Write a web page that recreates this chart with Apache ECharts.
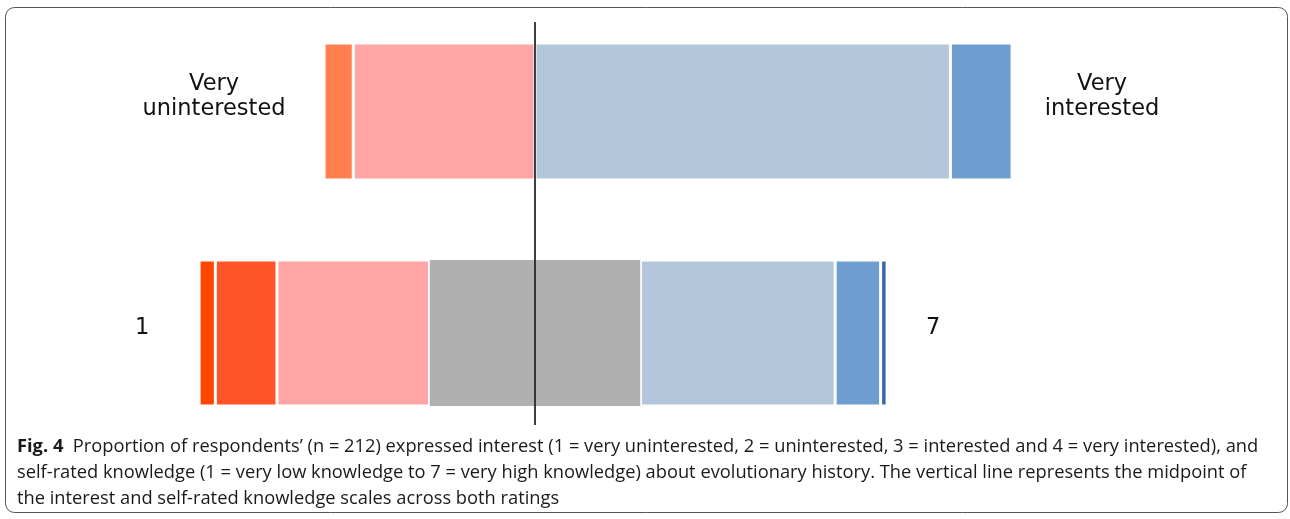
<!DOCTYPE html>
<html>
<head>
<meta charset="utf-8">
<script src="https://cdn.jsdelivr.net/npm/echarts@6/dist/echarts.min.js"></script>
<style>html,body{margin:0;padding:0;background:#fff}#c{width:1290px;height:519px}</style>
</head>
<body>
<div id="c"></div>
<script>
// ---- data (respondent counts, n = 212) ----
const interestCats = ['Very uninterested', 'Uninterested', 'Interested', 'Very interested'];
const interestCounts = [9, 56, 128, 19];
const interestColors = ['#FF7F50', '#FFA5A5', '#B4C6DC', '#6E9ECF'];

const knowledgeCats = ['1', '2', '3', '4', '5', '6', '7'];
const knowledgeCounts = [5, 19, 47, 65, 60, 14, 2];
const knowledgeColors = ['#FF4500', '#FF5427', '#FFA5A5', '#B0B0B0', '#B4C6DC', '#6E9ECF', '#3A68A8'];

const interestEndLabels = ['Very\nuninterested', 'Very\ninterested'];
const knowledgeEndLabels = ['1', '7'];
const midpoint = 0;

const captionLines = [
  '{b|Fig. 4}  Proportion of respondents\u2019 (n = 212) expressed interest (1 = very uninterested, 2 = uninterested, 3 = interested and 4 = very interested), and',
  'self-rated knowledge (1 = very low knowledge to 7 = very high knowledge) about evolutionary history. The vertical line represents the midpoint of',
  'the interest and self-rated knowledge scales across both ratings'
];

// ---- layout ----
const X_MIN = -160, X_MAX = 220;
const GL = 15.75, GR = 41.05;
const labelFont = { fontFamily: 'DejaVu Sans', fontSize: 22.5, color: '#111', lineHeight: 25 };

function endLabel(text, side, distance, dy) {
  return Object.assign({
    show: true,
    position: side,
    distance: distance,
    align: 'center',
    verticalAlign: 'middle',
    offset: [0, dy],
    formatter: () => text
  }, labelFont);
}

const series = [];

// Interest row (grid 0): the two negative categories stack left of the midpoint
const nI = interestCounts.length;
const halfI = nI / 2;
const interestOrder = [];
for (let i = halfI - 1; i >= 0; i--) interestOrder.push({ idx: i, sign: -1 });
for (let i = halfI; i < nI; i++) interestOrder.push({ idx: i, sign: 1 });
interestOrder.forEach(o => {
  const s = {
    name: interestCats[o.idx],
    type: 'bar', stack: 'interest', xAxisIndex: 0, yAxisIndex: 0,
    barWidth: '100%',
    itemStyle: { color: interestColors[o.idx], borderColor: '#fff', borderWidth: 1.5 },
    data: [o.sign * interestCounts[o.idx]]
  };
  if (o.idx === 0) s.label = endLabel(interestEndLabels[0], 'left', 110, -15);
  if (o.idx === nI - 1) s.label = endLabel(interestEndLabels[1], 'right', 90, -15);
  series.push(s);
});

// Knowledge row (grid 1): the neutral middle category is split across the midpoint
const nK = knowledgeCounts.length;
const mid = (nK - 1) / 2;
const knowledgeOrder = [{ idx: mid, sign: -1, half: true }];
for (let i = mid - 1; i >= 0; i--) knowledgeOrder.push({ idx: i, sign: -1 });
knowledgeOrder.push({ idx: mid, sign: 1, half: true });
for (let i = mid + 1; i < nK; i++) knowledgeOrder.push({ idx: i, sign: 1 });
knowledgeOrder.forEach(o => {
  const v = o.half ? knowledgeCounts[o.idx] / 2 : knowledgeCounts[o.idx];
  const s = {
    name: knowledgeCats[o.idx],
    type: 'bar', stack: 'knowledge', xAxisIndex: 1, yAxisIndex: 1,
    barWidth: '100%',
    itemStyle: { color: knowledgeColors[o.idx], borderColor: o.half ? knowledgeColors[o.idx] : '#fff', borderWidth: o.half ? 0 : 1.5 },
    data: [o.sign * v]
  };
  if (o.idx === 0) s.label = endLabel(knowledgeEndLabels[0], 'left', 57, -5);
  if (o.idx === nK - 1) s.label = endLabel(knowledgeEndLabels[1], 'right', 46, -5);
  series.push(s);
});

// Midpoint line (grid 2 spans both rows)
series.push({
  type: 'scatter', xAxisIndex: 2, yAxisIndex: 2, symbolSize: 0, silent: true,
  data: [[midpoint, 0.5]],
  markLine: {
    silent: true, symbol: 'none', label: { show: false },
    lineStyle: { color: '#2a2a2a', width: 1.8, type: 'solid' },
    data: [{ xAxis: midpoint }]
  }
});

const hiddenX = i => ({ type: 'value', gridIndex: i, min: X_MIN, max: X_MAX, show: false });

const option = {
  animation: false,
  backgroundColor: '#fff',
  grid: [
    { left: GL, right: GR, top: 43, height: 137 },
    { left: GL, right: GR, top: 260, height: 146 },
    { left: GL, right: GR, top: 22, height: 403 }
  ],
  xAxis: [hiddenX(0), hiddenX(1), hiddenX(2)],
  yAxis: [
    { type: 'category', gridIndex: 0, data: ['Interest'], show: false },
    { type: 'category', gridIndex: 1, data: ['Knowledge'], show: false },
    { type: 'value', gridIndex: 2, min: 0, max: 1, show: false }
  ],
  title: {
    left: 17, top: 434, padding: 0,
    text: captionLines.join('\n'),
    textStyle: {
      fontFamily: 'Open Sans', fontSize: 18.3, fontWeight: 'normal', color: '#1a1a1a', lineHeight: 26,
      rich: { b: { fontFamily: 'Open Sans', fontSize: 18.3, fontWeight: 'bold', color: '#1a1a1a', lineHeight: 26 } }
    }
  },
  graphic: [{
    type: 'rect', silent: true, z: -10,
    shape: { x: 5.5, y: 7.5, width: 1282, height: 505, r: 9 },
    style: { fill: 'none', stroke: '#555', lineWidth: 1 }
  }],
  series: series
};

const chart = echarts.init(document.getElementById('c'), null, { renderer: 'canvas' });
chart.setOption(option);
</script>
</body>
</html>
